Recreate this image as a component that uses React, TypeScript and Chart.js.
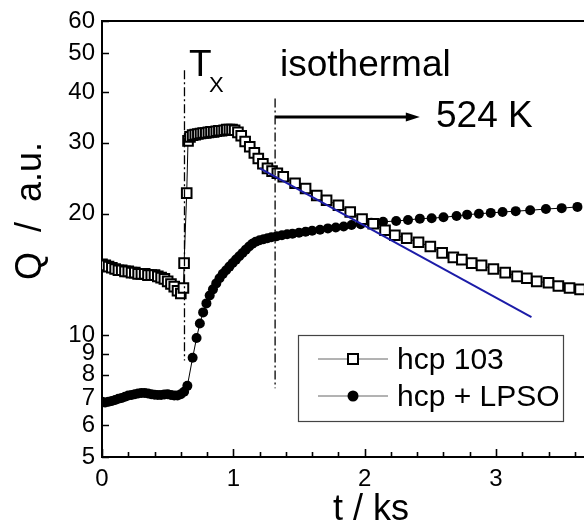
import React, { useEffect, useRef } from 'react';
import { Chart, registerables } from 'chart.js';

Chart.register(...registerables);

// ---- data (t in ks, Q in a.u.) ----
const squareT = [0, 0.025, 0.05, 0.075, 0.1, 0.125, 0.15, 0.175, 0.2, 0.225, 0.25, 0.275, 0.3, 0.325, 0.35, 0.375, 0.4, 0.425, 0.45, 0.475, 0.5, 0.525, 0.55, 0.575, 0.6,
  0.62, 0.625, 0.645, 0.655,
  0.67, 0.69, 0.71, 0.73, 0.75, 0.77, 0.79, 0.81, 0.83, 0.85, 0.87, 0.89, 0.91, 0.93, 0.95, 0.97, 0.99,
  1.01, 1.035, 1.06, 1.09, 1.125, 1.16, 1.19, 1.225, 1.26, 1.295, 1.335, 1.38,
  1.47, 1.55, 1.635, 1.71, 1.8, 1.89, 1.98, 2.065, 2.155, 2.23, 2.32, 2.41, 2.5,
  2.59, 2.675, 2.74, 2.815, 2.89, 2.98, 3.07, 3.16, 3.235, 3.31, 3.4, 3.475, 3.56, 3.64];
const squareQ = [15.0, 14.9, 14.8, 14.7, 14.6, 14.5, 14.5, 14.4, 14.4, 14.3, 14.3, 14.2, 14.2, 14.2, 14.1, 14.1, 14.1, 14.0, 13.9, 13.8, 13.6, 13.4, 13.2, 12.9, 12.7,
  13.1, 15.1, 22.5, 30.3,
  31.0, 31.3, 31.4, 31.5, 31.6, 31.7, 31.7, 31.8, 31.9, 31.9, 32.0, 32.1, 32.1, 32.2, 32.3, 32.3, 32.3,
  32.2, 31.8, 31.2, 30.2, 29.3, 28.3, 27.4, 26.6, 25.9, 25.5, 25.2, 24.7,
  23.8, 23.1, 22.2, 21.6, 21.0, 20.2, 19.4, 18.9, 18.2, 17.7, 17.4, 17.0, 16.6,
  16.0, 15.6, 15.4, 15.1, 14.9, 14.6, 14.3, 14.0, 13.85, 13.6, 13.5, 13.25, 13.1, 13.0];

const circleT = [0, 0.025, 0.05, 0.075, 0.1, 0.125, 0.15, 0.175, 0.2, 0.225, 0.25, 0.275, 0.3, 0.325, 0.35, 0.375, 0.4, 0.425, 0.45, 0.475, 0.5, 0.525, 0.55, 0.575, 0.6, 0.625, 0.65,
  0.69, 0.72, 0.745, 0.77, 0.795, 0.82, 0.845, 0.87, 0.895, 0.92, 0.945, 0.97, 0.995, 1.02, 1.045, 1.07, 1.095, 1.12, 1.145, 1.17,
  1.2, 1.23, 1.26, 1.29, 1.33, 1.37, 1.41, 1.45, 1.5, 1.55, 1.6, 1.66, 1.72, 1.78, 1.84, 1.9, 1.97, 2.05,
  2.14, 2.24, 2.33, 2.42, 2.51, 2.6, 2.7, 2.78, 2.87, 2.96, 3.05, 3.15, 3.26, 3.38, 3.5, 3.62];
const circleQ = [6.85, 6.82, 6.85, 6.88, 6.92, 6.97, 7.0, 7.05, 7.1, 7.12, 7.15, 7.18, 7.2, 7.2, 7.18, 7.15, 7.13, 7.12, 7.12, 7.14, 7.15, 7.12, 7.1, 7.1, 7.15, 7.25, 7.5,
  8.8, 9.85, 10.7, 11.4, 12.0, 12.55, 13.0, 13.45, 13.85, 14.2, 14.5, 14.8, 15.1, 15.4, 15.7, 16.0, 16.3, 16.6, 16.85, 17.05,
  17.2, 17.3, 17.4, 17.5, 17.6, 17.7, 17.8, 17.85, 17.95, 18.05, 18.15, 18.25, 18.4, 18.5, 18.6, 18.75, 18.85, 19.0,
  19.1, 19.2, 19.3, 19.45, 19.5, 19.6, 19.75, 19.9, 20.0, 20.1, 20.2, 20.3, 20.4, 20.55, 20.65, 20.8];

const fitT = [1.203, 3.27];
const fitQ = [25.9, 11.1];

const seriesLabels = ['hcp 103', 'hcp + LPSO'];
const xTickValues = [0, 1, 2, 3];
const yTickValues = [5, 6, 7, 8, 9, 10, 20, 30, 40, 50, 60];

// annotation anchors in data units
const txLineT = 0.628;
const isoLineT = 1.318;

const FONT = '"Liberation Sans", Arial, Helvetica, sans-serif';

const annotationPlugin = {
  id: 'annot',
  afterDraw(chart: any) {
    const { ctx, chartArea: a, scales } = chart;
    const x = scales.x;
    const y = scales.y;
    ctx.save();
    ctx.strokeStyle = '#000';
    ctx.fillStyle = '#000';

    // top frame line
    ctx.lineWidth = 2;
    ctx.beginPath();
    ctx.moveTo(a.left, a.top);
    ctx.lineTo(a.right, a.top);
    ctx.stroke();

    // inside ticks, x axis (major every 1, minor every 0.2)
    ctx.lineWidth = 1.6;
    ctx.beginPath();
    for (let i = 0; i <= 25; i++) {
      const v = i * 0.2;
      if (v > x.max + 1e-9) break;
      const px = Math.round(x.getPixelForValue(v)) + 0.5;
      const len = i % 5 === 0 ? 8 : 5;
      ctx.moveTo(px, a.bottom);
      ctx.lineTo(px, a.bottom - len);
    }
    // inside ticks, y axis
    yTickValues.forEach((v) => {
      const py = Math.round(y.getPixelForValue(v)) + 0.5;
      ctx.moveTo(a.left, py);
      ctx.lineTo(a.left + 7, py);
    });
    ctx.stroke();

    // dash-dot vertical lines
    ctx.lineWidth = 1.3;
    ctx.setLineDash([9, 3, 2, 3]);
    ctx.beginPath();
    let px = x.getPixelForValue(txLineT);
    ctx.moveTo(px, y.getPixelForValue(45.3));
    ctx.lineTo(px, y.getPixelForValue(8.67));
    px = x.getPixelForValue(isoLineT);
    ctx.moveTo(px, y.getPixelForValue(38.6));
    ctx.lineTo(px, y.getPixelForValue(7.4));
    ctx.stroke();
    ctx.setLineDash([]);

    // arrow
    const ay = y.getPixelForValue(34.7);
    const ax0 = x.getPixelForValue(isoLineT);
    const ax1 = x.getPixelForValue(2.42);
    ctx.lineWidth = 3;
    ctx.beginPath();
    ctx.moveTo(ax0, ay);
    ctx.lineTo(ax1 - 10, ay);
    ctx.stroke();
    ctx.beginPath();
    ctx.moveTo(ax1, ay);
    ctx.lineTo(ax1 - 14, ay - 4.5);
    ctx.lineTo(ax1 - 14, ay + 4.5);
    ctx.closePath();
    ctx.fill();

    // texts
    ctx.textBaseline = 'alphabetic';
    ctx.textAlign = 'left';
    ctx.font = `37px ${FONT}`;
    ctx.fillText('T', 189, 76);
    ctx.font = `22px ${FONT}`;
    ctx.fillText('X', 209, 92);
    ctx.font = `37px ${FONT}`;
    ctx.fillText('isothermal', 280, 76);
    ctx.fillText('524 K', 436, 127);

    // legend box
    const lx = 298.5, ly = 335.5, lw = 265, lh = 86;
    ctx.lineWidth = 1.2;
    ctx.strokeStyle = '#444';
    ctx.strokeRect(lx, ly, lw, lh);
    const rows = [359, 396];
    ctx.font = `30px ${FONT}`;
    ctx.textBaseline = 'middle';
    rows.forEach((ry, i) => {
      ctx.strokeStyle = '#666';
      ctx.lineWidth = 1;
      ctx.beginPath();
      ctx.moveTo(318, ry);
      ctx.lineTo(388, ry);
      ctx.stroke();
      ctx.strokeStyle = '#000';
      if (i === 0) {
        ctx.fillStyle = '#fff';
        ctx.lineWidth = 2;
        ctx.fillRect(348, ry - 5, 10, 10);
        ctx.strokeRect(348, ry - 5, 10, 10);
      } else {
        ctx.fillStyle = '#000';
        ctx.beginPath();
        ctx.arc(353, ry, 5.5, 0, Math.PI * 2);
        ctx.fill();
      }
      ctx.fillStyle = '#000';
      ctx.fillText(seriesLabels[i], 397, ry + 2);
    });

    // axis titles
    ctx.textAlign = 'center';
    ctx.textBaseline = 'middle';
    ctx.font = `36px ${FONT}`;
    ctx.save();
    ctx.translate(31, 211);
    ctx.rotate(-Math.PI / 2);
    ctx.fillText('Q  /  a.u.', 0, 0);
    ctx.restore();
    ctx.textBaseline = 'alphabetic';
    ctx.fillText('t / ks', 371, 520);

    ctx.restore();
  },
};

export default function App() {
  const canvasRef = useRef<HTMLCanvasElement | null>(null);

  useEffect(() => {
    const canvas = canvasRef.current;
    if (!canvas) return;
    const squares = squareT.map((t, i) => ({ x: t, y: squareQ[i] }));
    const circles = circleT.map((t, i) => ({ x: t, y: circleQ[i] }));
    const fit = fitT.map((t, i) => ({ x: t, y: fitQ[i] }));

    const chart = new Chart(canvas, {
      type: 'scatter',
      data: {
        datasets: [
          {
            label: 'fit',
            data: fit,
            showLine: true,
            borderColor: '#1c1ca8',
            borderWidth: 2,
            pointRadius: 0,
            order: 0,
          },
          {
            label: seriesLabels[0],
            data: squares,
            showLine: true,
            borderColor: '#000',
            borderWidth: 1,
            pointStyle: 'rect',
            pointRadius: 6.8,
            pointBorderWidth: 2,
            pointBorderColor: '#000',
            pointBackgroundColor: '#fff',
            order: 1,
          },
          {
            label: seriesLabels[1],
            data: circles,
            showLine: true,
            borderColor: '#000',
            borderWidth: 1,
            pointStyle: 'circle',
            pointRadius: 5,
            pointBorderWidth: 0,
            pointBackgroundColor: '#000',
            order: 2,
          },
        ],
      },
      options: {
        responsive: false,
        animation: false,
        events: [],
        layout: { autoPadding: false, padding: { top: 21, right: 0, bottom: 0, left: 0 } },
        plugins: {
          legend: { display: false },
          tooltip: { enabled: false },
        },
        scales: {
          x: {
            type: 'linear',
            min: 0,
            max: 3.67,
            grid: { display: false, drawTicks: false },
            border: { display: true, color: '#000', width: 2 },
            afterBuildTicks: (s: any) => {
              s.ticks = xTickValues.map((v) => ({ value: v }));
            },
            afterFit: (s: any) => {
              s.height = 72;
              s.paddingLeft = 0;
              s.paddingRight = 0;
            },
            ticks: {
              autoSkip: false,
              maxRotation: 0,
              padding: 8,
              color: '#000',
              font: { family: FONT, size: 24 },
              callback: (v: any) => String(v),
            },
          },
          y: {
            type: 'logarithmic',
            min: 5,
            max: 60,
            grid: { display: false, drawTicks: false },
            border: { display: true, color: '#000', width: 2 },
            afterBuildTicks: (s: any) => {
              s.ticks = yTickValues.map((v) => ({ value: v }));
            },
            afterFit: (s: any) => {
              s.width = 102;
              s.paddingTop = 0;
              s.paddingBottom = 0;
            },
            ticks: {
              autoSkip: false,
              padding: 7,
              color: '#000',
              font: { family: FONT, size: 24 },
              callback: (v: any) => String(v),
            },
          },
        },
      },
      plugins: [annotationPlugin],
    });
    return () => chart.destroy();
  }, []);

  return (
    <canvas
      ref={canvasRef}
      width={584}
      height={529}
      style={{ position: 'fixed', left: 0, top: 0, display: 'block', width: 584, height: 529 }}
    />
  );
}
